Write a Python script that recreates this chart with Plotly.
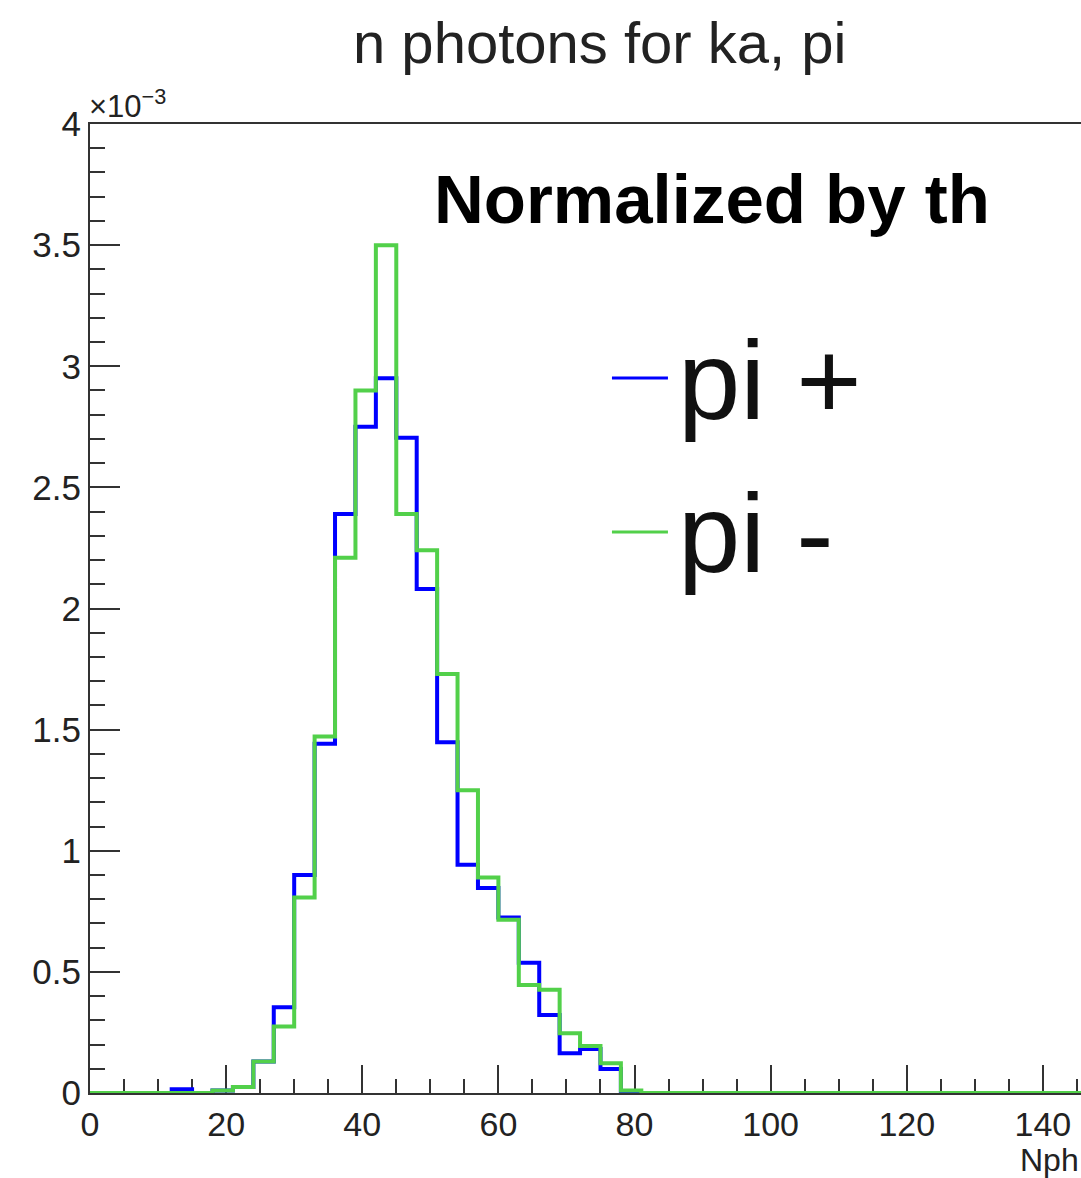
import plotly.graph_objects as go

# Histogram binning: 50 bins of width 3 from 0 to 150
bin_edges = [3 * i for i in range(51)]

# Normalized counts in units of 1e-3 (one value per bin)
pi_plus = [0, 0, 0, 0, 0.015, 0, 0.01, 0.025, 0.13, 0.354,
           0.90, 1.442, 2.39, 2.75, 2.95, 2.705, 2.08, 1.448, 0.942, 0.846,
           0.724, 0.538, 0.322, 0.164, 0.182, 0.099, 0, 0, 0, 0,
           0, 0, 0, 0, 0, 0, 0, 0, 0, 0,
           0, 0, 0, 0, 0, 0, 0, 0, 0, 0]
pi_minus = [0, 0, 0, 0, 0, 0, 0.01, 0.025, 0.13, 0.274,
            0.807, 1.472, 2.21, 2.90, 3.50, 2.39, 2.24, 1.73, 1.25, 0.89,
            0.715, 0.446, 0.426, 0.247, 0.194, 0.123, 0.01, 0, 0, 0,
            0, 0, 0, 0, 0, 0, 0, 0, 0, 0,
            0, 0, 0, 0, 0, 0, 0, 0, 0, 0]

series_names = ["pi +", "pi -"]
series_colors = ["#0000ff", "#52d04a"]

y_tickvals = [0, 0.5, 1, 1.5, 2, 2.5, 3, 3.5, 4]
y_ticktext = ["0", "0.5", "1", "1.5", "2", "2.5", "3", "3.5", "4"]

title_text = "n photons for ka, pi"
note_text = "Normalized by th"
x_title = "Nph"

fig = go.Figure()
for vals, name, col in zip([pi_plus, pi_minus], series_names, series_colors):
    fig.add_trace(go.Scatter(
        x=bin_edges, y=vals + [vals[-1]], mode="lines", line_shape="hv",
        line=dict(color=col, width=4), name=name, showlegend=False))

axis_col = "#333333"
fig.update_layout(
    width=1081, height=1178,
    margin=dict(l=90, r=0, t=124, b=85),
    paper_bgcolor="white", plot_bgcolor="white",
    font=dict(family="Liberation Sans, Arial, Helvetica, sans-serif", color="#222222"),
    showlegend=False,
    xaxis=dict(range=[0, 145.6], showgrid=False, zeroline=False,
               showline=True, linecolor=axis_col, linewidth=2, mirror=True,
               ticks="inside", ticklen=28, tickwidth=2, tickcolor=axis_col,
               tick0=0, dtick=20, tickfont=dict(size=34, color="#222222"),
               minor=dict(ticks="inside", ticklen=14, tickwidth=2, tickcolor=axis_col, dtick=5),
               layer="below traces"),
    yaxis=dict(range=[0, 4], showgrid=False, zeroline=False,
               showline=True, linecolor=axis_col, linewidth=2, mirror=False,
               ticks="inside", ticklen=30, tickwidth=2, tickcolor=axis_col,
               tickmode="array", tickvals=y_tickvals, ticktext=y_ticktext,
               tickfont=dict(size=35, color="#222222"),
               minor=dict(ticks="inside", ticklen=15, tickwidth=2, tickcolor=axis_col,
                          tickmode="linear", tick0=0, dtick=0.1),
               layer="below traces"),
)

# Title and annotations
fig.add_annotation(text=title_text, xref="paper", yref="paper",
                   x=0.5146, y=1.0846, xanchor="center", yanchor="middle",
                   showarrow=False, font=dict(size=58, color="#222222"))
fig.add_annotation(text="×10<sup>−3</sup>", xref="paper", yref="paper",
                   x=-0.003, y=0.998, xanchor="left", yanchor="bottom",
                   showarrow=False, font=dict(size=31, color="#222222"))
fig.add_annotation(text="<b>" + note_text + "</b>", xref="paper", yref="paper",
                   x=0.345, y=0.9216, xanchor="left", yanchor="middle",
                   showarrow=False, font=dict(size=69, color="#000000"))
fig.add_annotation(text=x_title, xref="paper", yref="paper",
                   x=0.936, y=-0.069, xanchor="left", yanchor="middle",
                   showarrow=False, font=dict(size=32, color="#222222"))

# Legend (drawn manually to match the large ROOT-style legend)
legend_line_y = [0.7379, 0.5789]
legend_text_y = [0.7348, 0.5779]
for name, col, ly, ty in zip(series_names, series_colors, legend_line_y, legend_text_y):
    fig.add_shape(type="line", xref="paper", yref="paper",
                  x0=0.5267, x1=0.5832, y0=ly, y1=ly,
                  line=dict(color=col, width=3))
    fig.add_annotation(text=name, xref="paper", yref="paper",
                       x=0.5914, y=ty, xanchor="left", yanchor="middle",
                       showarrow=False, font=dict(size=112, color="#111111"))

fig.write_html("out.html")
